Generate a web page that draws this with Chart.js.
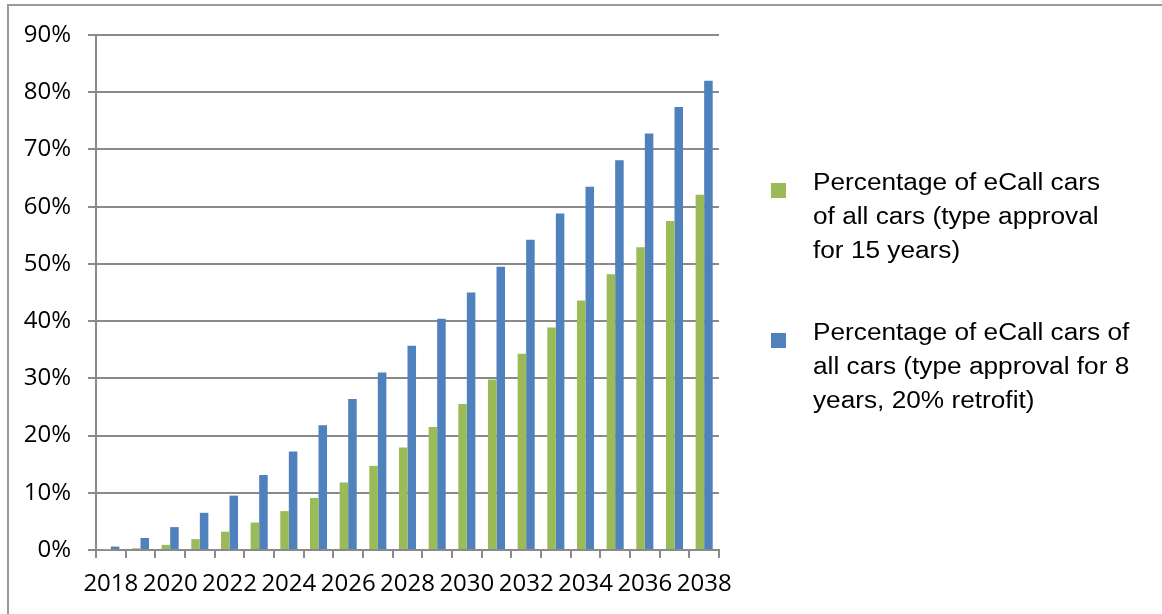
<!DOCTYPE html>
<html>
<head>
<meta charset="utf-8">
<title>eCall cars</title>
<script src="https://cdn.jsdelivr.net/npm/chart.js@4.4.1/dist/chart.umd.min.js"></script>
<style>
	html, body { margin: 0; padding: 0; background: #fff; }
	#wrap { width: 1162px; height: 614px; position: relative; }
</style>
</head>
<body>
<div id="wrap"><canvas id="chart" width="1162" height="614"></canvas></div>
<script>
// data
var years = ["2018", "2019", "2020", "2021", "2022", "2023", "2024", "2025", "2026", "2027", "2028",
	"2029", "2030", "2031", "2032", "2033", "2034", "2035", "2036", "2037", "2038"];

var approval15 = [0.05, 0.3, 0.9, 1.9, 3.2, 4.8, 6.8, 9.1, 11.8, 14.7, 17.9,
	21.5, 25.5, 29.8, 34.3, 38.9, 43.6, 48.2, 52.9, 57.5, 62.1];

var approval8retrofit = [0.6, 2.1, 4.0, 6.5, 9.5, 13.1, 17.2, 21.8, 26.4, 31.0, 35.7,
	40.4, 45.0, 49.5, 54.2, 58.8, 63.5, 68.1, 72.8, 77.4, 82.0];

var legendLines = [
	["Percentage of eCall cars", "of all cars (type approval", "for 15 years)"],
	["Percentage of eCall cars of", "all cars (type approval for 8", "years, 20% retrofit)"]
];

var green = "#9bbb59";
var blue = "#4f81bd";
var gridGray = "#8a8a8a";

// frame lines + the wrapped legend on the right
var sidePlugin = {
	id: "side",
	afterDraw: function(chart){
		var ctx = chart.ctx;
		ctx.save();
		ctx.strokeStyle = "#9a9a9a";
		ctx.lineWidth = 2;
		ctx.beginPath();
		ctx.moveTo(8, 614);
		ctx.lineTo(8, 5);
		ctx.lineTo(1162, 5);
		ctx.stroke();

		var tops = [190, 340];
		for(var i=0; i<chart.data.datasets.length; i++){
			var ds = chart.data.datasets[i];
			ctx.fillStyle = ds.backgroundColor;
			ctx.fillRect(771, tops[i] - 7, 15, 15);
			ctx.fillStyle = "#000";
			ctx.font = "23px 'Liberation Sans', Arial, sans-serif";
			ctx.textBaseline = "alphabetic";
			ctx.textAlign = "left";
			for(var j=0; j<legendLines[i].length; j++){
				ctx.save();
				ctx.translate(813, tops[i] + j * 34);
				ctx.scale(1.14, 1);
				ctx.fillText(legendLines[i][j], 0, 0);
				ctx.restore();
			}
		}
		ctx.restore();
	}
};

var ctx = document.getElementById("chart").getContext("2d");
var chart = new Chart(ctx, {
	type: "bar",
	data: {
		labels: years,
		datasets: [
			{
				label: legendLines[0].join(" "),
				data: approval15,
				backgroundColor: green,
				borderWidth: 0,
				categoryPercentage: 0.575,
				barPercentage: 1.0
			},
			{
				label: legendLines[1].join(" "),
				data: approval8retrofit,
				backgroundColor: blue,
				borderWidth: 0,
				categoryPercentage: 0.575,
				barPercentage: 1.0
			}
		]
	},
	options: {
		responsive: false,
		animation: false,
		layout: { padding: { top: 35, right: 443, left: 0, bottom: 0 } },
		plugins: {
			legend: { display: false },
			tooltip: { enabled: false }
		},
		scales: {
			x: {
				afterFit: function(scale){ scale.height = 64; },
				grid: {
					drawOnChartArea: false,
					drawTicks: true,
					tickLength: 8,
					color: gridGray,
					lineWidth: 2
				},
				border: { color: gridGray, width: 2 },
				ticks: {
					autoSkip: false,
					maxRotation: 0,
					padding: 12,
					color: "#000",
					font: { family: "'Open Sans', sans-serif", size: 24 },
					callback: function(val, idx){
						return idx % 2 === 0 ? years[idx] : "";
					}
				}
			},
			y: {
				min: 0,
				max: 90,
				afterFit: function(scale){ scale.width = 96; },
				grid: {
					color: gridGray,
					lineWidth: 2,
					tickLength: 8
				},
				border: { color: gridGray, width: 2 },
				ticks: {
					stepSize: 10,
					padding: 17,
					color: "#000",
					font: { family: "'Open Sans', sans-serif", size: 24 },
					callback: function(v){ return v + "%"; }
				}
			}
		}
	},
	plugins: [sidePlugin]
});
</script>
</body>
</html>
